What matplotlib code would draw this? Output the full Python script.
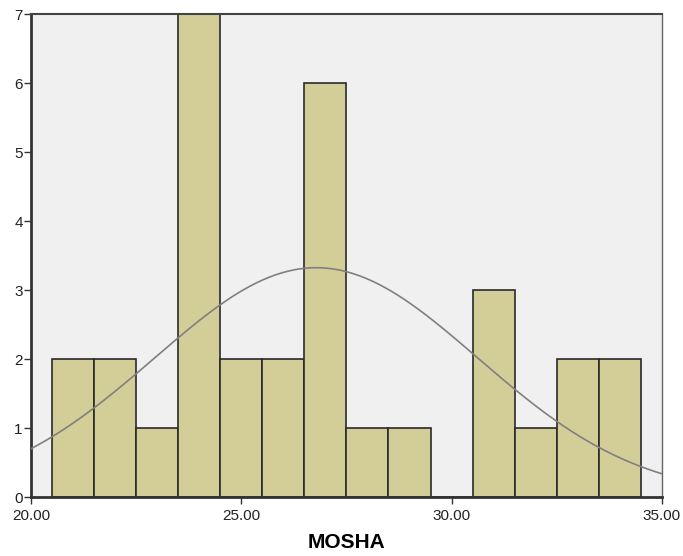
import matplotlib.pyplot as plt
import numpy as np

plt.rcParams["font.family"] = ["Liberation Sans", "DejaVu Sans"]

ages = [21, 22, 23, 24, 25, 26, 27, 28, 29, 30, 31, 32, 33, 34]
counts = [2, 2, 1, 7, 2, 2, 6, 1, 1, 0, 3, 1, 2, 2]
xticks = [20, 25, 30, 35]
yticks = [0, 1, 2, 3, 4, 5, 6, 7]

ages_arr = np.array(ages, dtype=float)
counts_arr = np.array(counts, dtype=float)
n = counts_arr.sum()
mean = (ages_arr * counts_arr).sum() / n
sd = np.sqrt((counts_arr * (ages_arr - mean) ** 2).sum() / (n - 1))

fig = plt.figure(figsize=(6.83, 5.56), dpi=100)
ax = fig.add_axes([0.0454, 0.1061, 0.9236, 0.8687])
ax.set_facecolor("#F0F0F0")

ax.bar(ages, counts, width=1.0, color="#D3CE98", edgecolor="#2a2a2a",
       linewidth=1.2, zorder=2)

xs = np.linspace(20, 35, 300)
curve = n * 1.0 / (sd * np.sqrt(2 * np.pi)) * np.exp(-0.5 * ((xs - mean) / sd) ** 2)
ax.plot(xs, curve, color="#808080", linewidth=1.2, zorder=3)

ax.set_xlim(20, 35)
ax.set_ylim(0, 7)
ax.set_xticks(xticks)
ax.set_xticklabels([f"{v:.2f}" for v in xticks])
ax.set_yticks(yticks)
ax.tick_params(axis="both", direction="out", length=5, width=1,
               color="#333333", labelsize=11, labelcolor="#222222")
ax.tick_params(axis="y", pad=1)

ax.spines["left"].set_linewidth(2)
ax.spines["left"].set_color("#333333")
ax.spines["bottom"].set_linewidth(2)
ax.spines["bottom"].set_color("#333333")
ax.spines["top"].set_linewidth(1.5)
ax.spines["top"].set_color("#444444")
ax.spines["right"].set_linewidth(1)
ax.spines["right"].set_color("#666666")

ax.set_xlabel("MOSHA", fontsize=15, fontweight="bold", labelpad=7)

fig.savefig("out.png", dpi=100)
